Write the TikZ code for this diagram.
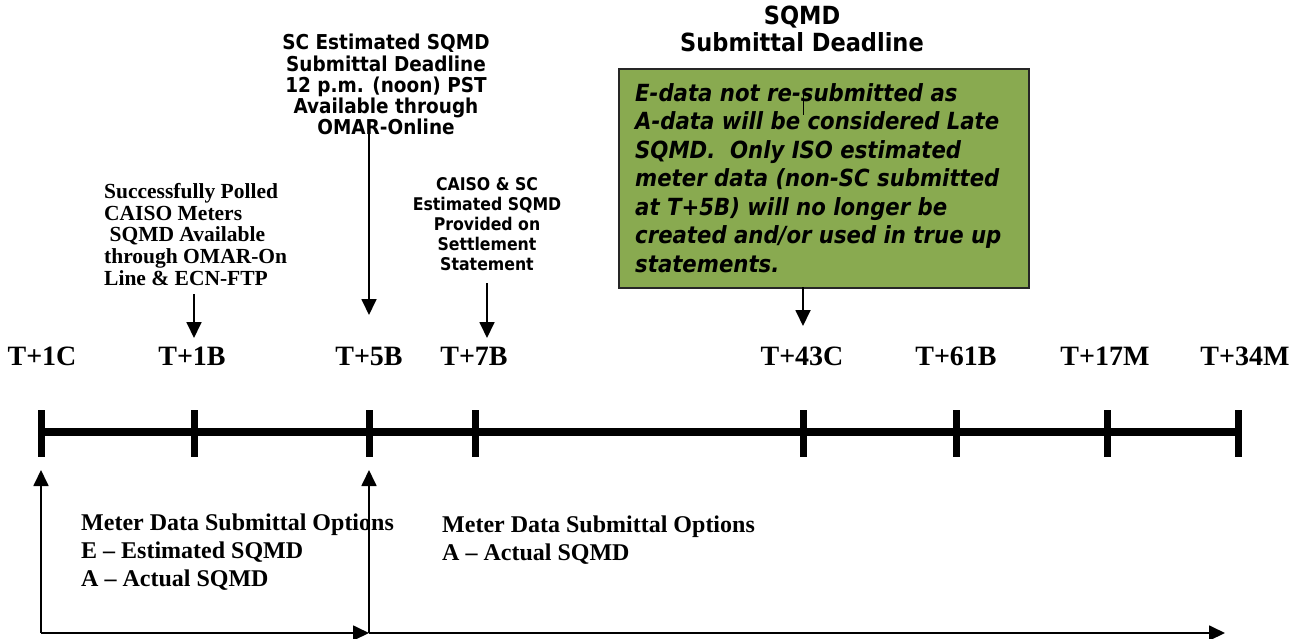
\documentclass[tikz,border=0pt]{standalone}
\usepackage{fontspec}
\setmainfont{Liberation Serif}
\newfontfamily\tah{DejaVu Sans Condensed}
\usetikzlibrary{arrows.meta}
\definecolor{notegreen}{RGB}{137,170,80}

\begin{document}
\begin{tikzpicture}[x=1pt,y=-1pt,
  tlabel/.style={font=\fontsize{28}{30}\selectfont\bfseries, inner sep=0pt, anchor=base},
  optiontext/.style={font=\fontsize{24}{28}\selectfont\bfseries, inner sep=0pt, anchor=north west, align=left},
  polltext/.style={font=\fontsize{21.5}{21.7}\selectfont\bfseries, inner sep=0pt, anchor=north west, align=left},
  headtext/.style={font=\tah\bfseries\fontsize{20.5}{21.3}\selectfont, inner sep=0pt, anchor=north, align=center},
  bighead/.style={font=\tah\bfseries\fontsize{25}{27}\selectfont, inner sep=0pt, anchor=north, align=center},
  smallhead/.style={font=\tah\bfseries\fontsize{17.5}{20}\selectfont, inner sep=0pt, anchor=north, align=center},
  notebox/.style={draw=black!85, line width=1.5pt, fill=notegreen, anchor=north west,
    minimum width=410pt, minimum height=219pt, inner sep=0pt},
  notetext/.style={font=\tah\bfseries\itshape\fontsize{23.6}{28.5}\selectfont,
    anchor=north west, align=left, inner sep=0pt},
  pointer/.style={line width=1.8pt, -{Triangle[width=15pt,length=16pt]}},
  span/.style={line width=1.8pt, -{Triangle[width=15pt,length=16pt]}},
  axis/.style={line width=8pt},
  tickmark/.style={line width=7pt}]
\useasboundingbox (0,0) rectangle (1299,638);

% time line with its tick marks
\foreach \n/\x in {1/41,2/194,3/369,4/475,5/803,6/956,7/1107,8/1238}{
  \coordinate (k\n) at (\x,432);
  \draw[tickmark] (\x,410) -- (\x,457);
}
\draw[axis] (k1) -- (k8);

% tick labels
\node[tlabel] (t1C)  at (42,365)   {T+1C};
\node[tlabel] (t1B)  at (192,365)  {T+1B};
\node[tlabel] (t5B)  at (369,365)  {T+5B};
\node[tlabel] (t7B)  at (474,365)  {T+7B};
\node[tlabel] (t43C) at (802,365)  {T+43C};
\node[tlabel] (t61B) at (956,365)  {T+61B};
\node[tlabel] (t17M) at (1105,365) {T+17M};
\node[tlabel] (t34M) at (1245,365) {T+34M};

% events above the time line
\node[polltext] (poll) at (104,183)
  {Successfully Polled\\CAISO Meters\\\hspace*{0.25em}SQMD Available\\through OMAR-On\\Line \& ECN-FTP};
\node[headtext] (scest) at (386,34)
  {SC Estimated SQMD\\Submittal Deadline\\12 p.m. (noon) PST\\Available through\\OMAR-Online};
\node[smallhead] (stmt) at (487,177)
  {CAISO \& SC\\Estimated SQMD\\Provided on\\Settlement\\Statement};
\node[bighead] (deadline) at (802,6) {SQMD\\Submittal Deadline};

% note on late data
\node[notebox] (note) at (618,68) {};
\node[notetext] (notetxt) at (635,83)
  {E-data not re-submitted as\\A-data will be considered Late\\SQMD.\ \ Only ISO estimated\\meter data (non-SC submitted\\at T+5B) will no longer be\\created and/or used in true up\\statements.};
\draw[line width=1pt] (803,92) -- (803,115);

\coordinate (p1s) at (194,294);  \coordinate (p1e) at (194,338);
\coordinate (p2s) at (369,132);  \coordinate (p2e) at (369,315);
\coordinate (p3s) at (487,283);  \coordinate (p3e) at (487,338);
\coordinate (p4s) at (803,287);  \coordinate (p4e) at (803,326);
\draw[pointer] (p1s) -- (p1e);
\draw[pointer] (p2s) -- (p2e);
\draw[pointer] (p3s) -- (p3e);
\draw[pointer] (p4s) -- (p4e);

% submittal windows below the time line
\coordinate (c0) at (41,633);
\coordinate (c1) at (369,633);
\coordinate (c2) at (1225,633);
\coordinate (u0) at (41,470);
\coordinate (u1) at (369,470);
\draw[span] (c0) -- (u0);
\draw[span] (c0) -- (c1);
\draw[span] (c1) -- (u1);
\draw[span] (c1) -- (c2);

\node[optiontext] (opt1) at (81,514)
  {Meter Data Submittal Options\\E -- Estimated SQMD\\A -- Actual SQMD};
\node[optiontext] (opt2) at (442,516)
  {Meter Data Submittal Options\\A -- Actual SQMD};
\end{tikzpicture}
\end{document}
